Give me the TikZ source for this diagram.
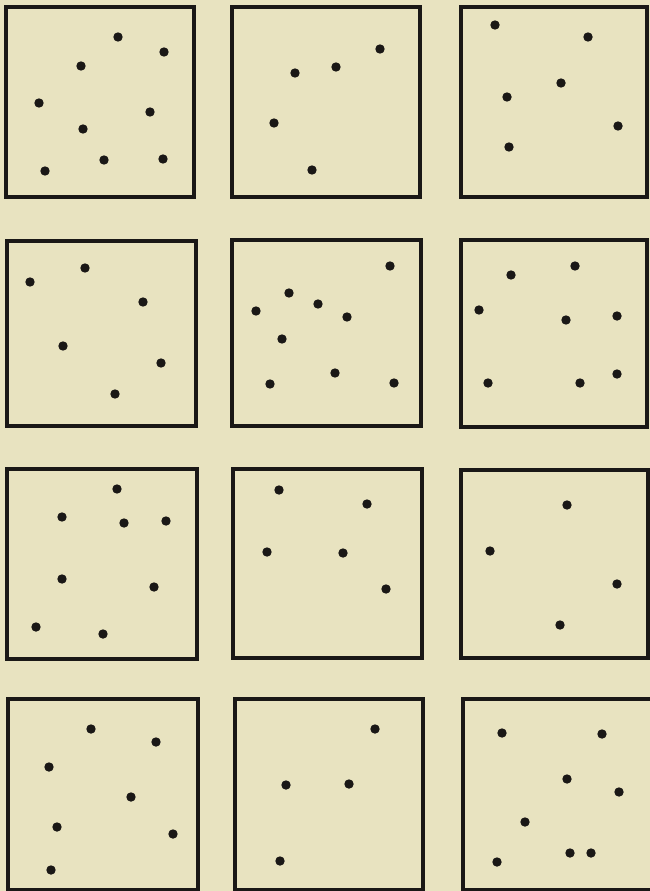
\documentclass[tikz,border=0pt]{standalone}
\definecolor{paper}{RGB}{232,227,192}
\definecolor{ink}{RGB}{26,24,22}
\tikzset{
  frame/.style={draw=ink, line width=3.2pt, rectangle, inner sep=0pt, outer sep=0pt},
  dot/.style={circle, fill=ink, draw=none, minimum size=9.4pt, inner sep=0pt}
}
\newcommand{\pbox}[5]{% name x1 y1 x2 y2
  \pgfmathsetmacro{\cx}{(#2+#4)/2}\pgfmathsetmacro{\cy}{(#3+#5)/2}%
  \pgfmathsetmacro{\bw}{#4-#2}\pgfmathsetmacro{\bh}{#5-#3}%
  \node[frame, minimum width=\bw pt, minimum height=\bh pt] (#1) at (\cx,\cy) {};}
\begin{document}
\begin{tikzpicture}[x=1pt,y=-1pt]
\useasboundingbox (0,0) rectangle (650,891);
\fill[paper] (0,0) rectangle (650,891);
\clip (0,0) rectangle (650,891);
% frames
\pbox{b1}{6}{7}{194}{197}
\pbox{b2}{232}{7}{420}{197}
\pbox{b3}{461}{7}{647}{197}
\pbox{b4}{7}{241}{196}{426}
\pbox{b5}{232}{240}{421}{426}
\pbox{b6}{461}{240}{647}{427}
\pbox{b7}{7}{469}{197}{659}
\pbox{b8}{233}{469}{422}{658}
\pbox{b9}{461}{470}{648}{658}
\pbox{b10}{8}{699}{198}{890}
\pbox{b11}{235}{699}{423}{890}
\pbox{b12}{463}{699}{656}{890}
% box 1
\foreach \x/\y [count=\i] in {118/37,164/52,81/66,39/103,150/112,83/129,104/160,163/159,45/171}
  \node[dot] (a\i) at (\x,\y) {};
% box 2
\foreach \x/\y [count=\i] in {380/49,336/67,295/73,274/123,312/170}
  \node[dot] (b\i) at (\x,\y) {};
% box 3
\foreach \x/\y [count=\i] in {495/25,588/37,561/83,507/97,618/126,509/147}
  \node[dot] (c\i) at (\x,\y) {};
% box 4
\foreach \x/\y [count=\i] in {85/268,30/282,143/302,63/346,161/363,115/394}
  \node[dot] (d\i) at (\x,\y) {};
% box 5
\foreach \x/\y [count=\i] in {390/266,289/293,318/304,256/311,347/317,282/339,335/373,270/384,394/383}
  \node[dot] (e\i) at (\x,\y) {};
% box 6
\foreach \x/\y [count=\i] in {575/266,511/275,479/310,566/320,617/316,488/383,580/383,617/374}
  \node[dot] (f\i) at (\x,\y) {};
% box 7
\foreach \x/\y [count=\i] in {117/489,62/517,124/523,166/521,62/579,154/587,36/627,103/634}
  \node[dot] (g\i) at (\x,\y) {};
% box 8
\foreach \x/\y [count=\i] in {279/490,367/504,267/552,343/553,386/589}
  \node[dot] (h\i) at (\x,\y) {};
% box 9
\foreach \x/\y [count=\i] in {567/505,490/551,617/584,560/625}
  \node[dot] (k\i) at (\x,\y) {};
% box 10
\foreach \x/\y [count=\i] in {91/729,156/742,49/767,131/797,57/827,173/834,51/870}
  \node[dot] (m\i) at (\x,\y) {};
% box 11
\foreach \x/\y [count=\i] in {375/729,286/785,349/784,280/861}
  \node[dot] (n\i) at (\x,\y) {};
% box 12
\foreach \x/\y [count=\i] in {502/733,602/734,567/779,619/792,525/822,570/853,591/853,497/862}
  \node[dot] (p\i) at (\x,\y) {};
\end{tikzpicture}
\end{document}
